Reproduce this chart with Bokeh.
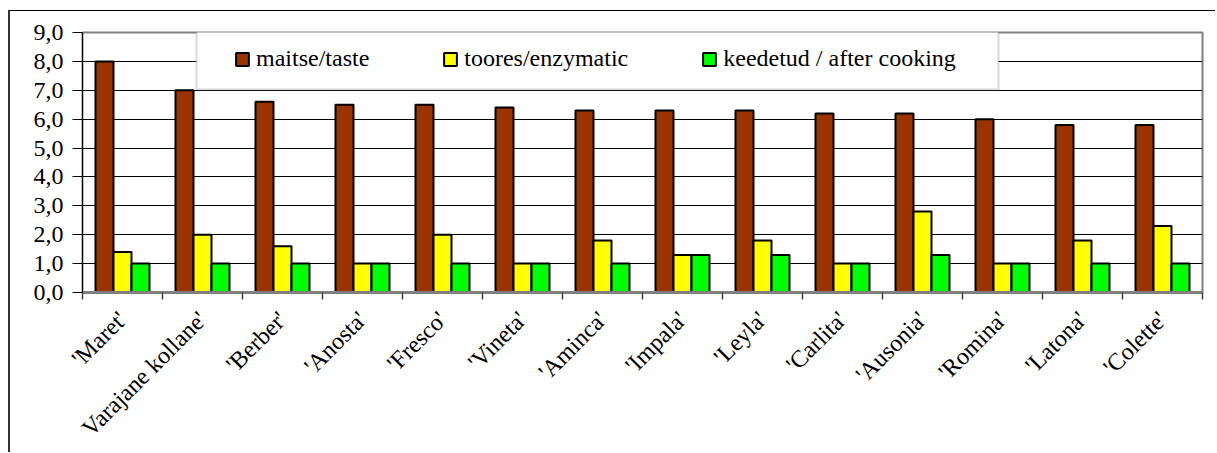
import math
from bokeh.plotting import figure
from bokeh.models import (ColumnDataSource, Range1d, FixedTicker, Legend, LegendItem,
                          BoxAnnotation)
from bokeh.transform import dodge
from bokeh.embed import file_html
from bokeh.resources import INLINE

categories = ["'Maret'", "Varajane kollane'", "'Berber'", "'Anosta'", "'Fresco'", "'Vineta'",
              "'Aminca'", "'Impala'", "'Leyla'", "'Carlita'", "'Ausonia'", "'Romina'",
              "'Latona'", "'Colette'"]
taste = [8.0, 7.0, 6.6, 6.5, 6.5, 6.4, 6.3, 6.3, 6.3, 6.2, 6.2, 6.0, 5.8, 5.8]
enzymatic = [1.4, 2.0, 1.6, 1.0, 2.0, 1.0, 1.8, 1.3, 1.8, 1.0, 2.8, 1.0, 1.8, 2.3]
after_cooking = [1.0, 1.0, 1.0, 1.0, 1.0, 1.0, 1.0, 1.3, 1.3, 1.0, 1.3, 1.0, 1.0, 1.0]
series_names = ["maitse/taste", "toores/enzymatic", "keedetud / after cooking"]
series_colors = ["#993300", "#FFFF00", "#00FF00"]
y_ticks = list(range(0, 10))
y_tick_labels = {t: f"{t},0" for t in y_ticks}

FONT = "'Liberation Serif', 'Times New Roman', serif"

centers = [i + 0.5 for i in range(len(categories))]
src = ColumnDataSource(dict(x=centers, taste=taste, enz=enzymatic, cook=after_cooking))

p = figure(width=1207, height=442, output_backend="svg", toolbar_location=None,
           x_range=Range1d(0, len(categories)), y_range=Range1d(0, 9),
           min_border_left=72, min_border_right=15, min_border_top=21, min_border_bottom=161,
           background_fill_color="white", border_fill_color="white",
           margin=(10, 0, 0, 8),
           styles={"border-left": "2px solid #333333", "border-top": "1px solid #000000"})

bw = 0.225
r1 = p.vbar(x=dodge("x", -bw, range=p.x_range), top="taste", width=bw, source=src,
            fill_color=series_colors[0], line_color="black", line_width=2)
r2 = p.vbar(x=dodge("x", 0, range=p.x_range), top="enz", width=bw, source=src,
            fill_color=series_colors[1], line_color="black", line_width=2)
r3 = p.vbar(x=dodge("x", bw, range=p.x_range), top="cook", width=bw, source=src,
            fill_color=series_colors[2], line_color="black", line_width=2)

# Outline of plot area
p.outline_line_color = "#808080"
p.outline_line_width = 2

# Grid
p.xgrid.visible = False
p.ygrid.ticker = FixedTicker(ticks=y_ticks[1:-1])
p.ygrid.grid_line_color = "#000000"
p.ygrid.grid_line_width = 1

# Y axis
p.yaxis.ticker = FixedTicker(ticks=y_ticks)
p.yaxis.major_label_overrides = y_tick_labels
p.yaxis.major_label_text_font = FONT
p.yaxis.major_label_text_font_size = "24px"
p.yaxis.major_label_text_color = "black"
p.yaxis.major_tick_out = 10
p.yaxis.major_tick_in = 0
p.yaxis.minor_tick_out = 0
p.yaxis.minor_tick_in = 0
p.yaxis.major_label_standoff = 9
p.yaxis.axis_line_color = "black"
p.yaxis.major_tick_line_color = "black"

# X axis
p.xaxis.ticker = FixedTicker(ticks=centers, minor_ticks=list(range(len(categories) + 1)))
p.xaxis.major_label_overrides = {c: n for c, n in zip(centers, categories)}
p.xaxis.major_label_orientation = math.pi / 4
p.xaxis.major_label_text_font = FONT
p.xaxis.major_label_text_font_size = "24px"
p.xaxis.major_label_text_color = "black"
p.xaxis.major_tick_out = 0
p.xaxis.major_tick_in = 0
p.xaxis.minor_tick_out = 7
p.xaxis.minor_tick_in = 0
p.xaxis.minor_tick_line_color = "#404040"
p.xaxis.minor_tick_line_width = 1.5
p.xaxis.axis_line_color = "#808080"
p.xaxis.axis_line_width = 3
p.xaxis.major_label_standoff = 16

# Legend frame
box = BoxAnnotation(left=114, right=916, bottom=203, top=264,
                    left_units="screen", right_units="screen",
                    bottom_units="screen", top_units="screen",
                    fill_color="white", fill_alpha=1.0,
                    line_color="#808080", line_width=2)
p.add_layout(box)

legend = Legend(items=[LegendItem(label=series_names[0], renderers=[r1]),
                       LegendItem(label=series_names[1], renderers=[r2]),
                       LegendItem(label=series_names[2], renderers=[r3])],
                orientation="horizontal", location=(152, 220),
                padding=0, spacing=73, glyph_width=16, glyph_height=16,
                label_standoff=6, label_text_font=FONT, label_text_font_size="24px",
                label_text_color="black",
                background_fill_alpha=0, border_line_alpha=0)
p.add_layout(legend, "center")

open("out.html", "w").write(file_html(p, INLINE))
